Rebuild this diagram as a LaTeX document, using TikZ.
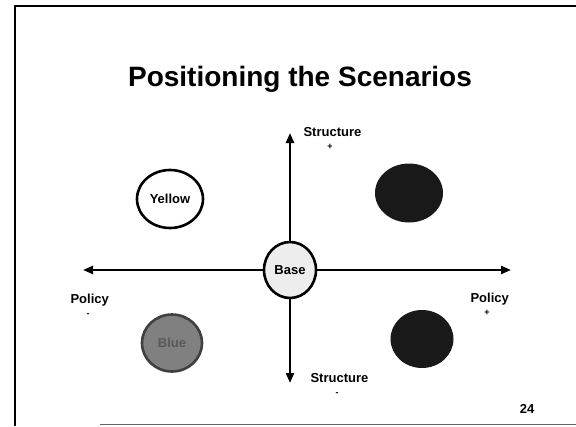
\documentclass[tikz,border=0pt]{standalone}
\usepackage{fontspec}
\setmainfont{Liberation Sans}
\usetikzlibrary{arrows.meta,shapes.geometric}
\begin{document}
\begin{tikzpicture}[x=1pt,y=-1pt,font=\bfseries\fontsize{13}{15}\selectfont,
    disc/.style={ellipse,line width=2.6pt,inner sep=0pt},
    axis/.style={line width=2.4pt,-{Triangle[length=10pt,width=8pt]}}]
            \useasboundingbox (0,0) rectangle (576,426);
            % slide frame
            \draw[line width=2.8pt] (576,6) -- (15,6) -- (15,426);
            \draw[line width=1.2pt,black!60] (100,424.5) -- (576,424.5);

            \node (T) at (300,79) {\fontsize{28}{30}\selectfont Positioning the Scenarios};

            \node[disc,draw,fill=black!7,minimum width=52pt,minimum height=56pt] (O) at (290,270) {Base};
            \coordinate (N) at (290,133);
            \coordinate (S) at (290,383);
            \coordinate (W) at (83,270);
            \coordinate (E) at (511,270);

            \node[disc,draw,minimum width=66pt,minimum height=58pt] (Y) at (170,199) {Yellow};
            \node[disc,fill=black!90,minimum width=68pt,minimum height=59pt] (R) at (409,193) {};
            \node[disc,draw=black!75,fill=black!50,minimum width=60pt,minimum height=57pt] (B) at (172,343) {\textcolor{black!65}{Blue}};
            \node[disc,fill=black!90,minimum width=63pt,minimum height=58pt] (Q) at (422,339) {};

            \draw[axis] (O) -- (N);
            \draw[axis] (O) -- (S);
            \draw[axis] (O) -- (W);
            \draw[axis] (O) -- (E);

            \node[anchor=base west] (SP) at (300,136) {Structure};
            \node (SPs) at (330,147) {\fontsize{9}{9}\selectfont +};
            \node[anchor=base west] (SM) at (307,382) {Structure};
            \node (SMs) at (337,394) {\fontsize{9}{9}\selectfont -};
            \node[anchor=base west] (PM) at (67,303) {Policy};
            \node (PMs) at (88,315) {\fontsize{9}{9}\selectfont -};
            \node[anchor=base west] (PP) at (467,302) {Policy};
            \node (PPs) at (487,313) {\fontsize{9}{9}\selectfont +};

            \node[anchor=base] (P) at (527,413) {24};
\end{tikzpicture}
\end{document}
